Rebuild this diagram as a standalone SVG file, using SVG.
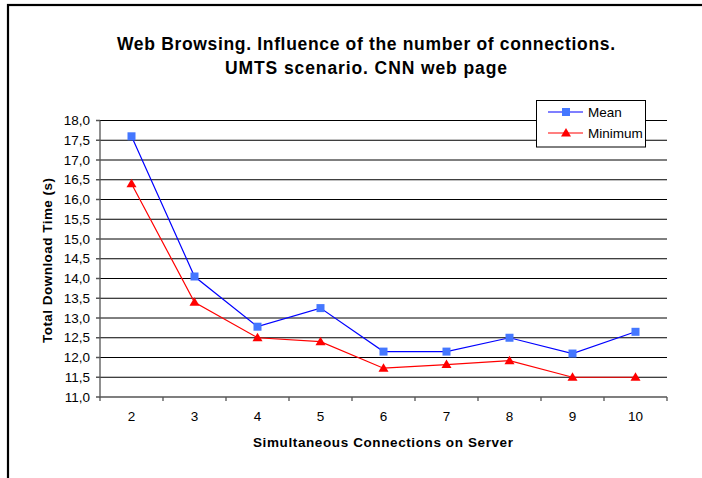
<svg xmlns="http://www.w3.org/2000/svg" xmlns:xlink="http://www.w3.org/1999/xlink" width="702" height="478" viewBox="0 0 702 478">
<style>
text{font-family:"Liberation Sans",Arial,sans-serif;fill:#000}
.title{font-size:17.5px;font-weight:bold;text-anchor:middle}
.axt{font-size:13.5px;font-weight:bold;text-anchor:middle}
.tick{font-size:13.5px}
.yl{text-anchor:end}
.xl{text-anchor:middle}
.grid{stroke:#000;stroke-width:1;fill:none}
.axis{stroke:#555;stroke-width:1.3;fill:none}
.mean{stroke:#0000ff;stroke-width:1.2;fill:none}
.minl{stroke:#ff0000;stroke-width:1.2;fill:none}
.leg{font-size:13.5px}
</style>
<defs>
<rect id="sq" x="-4" y="-4" width="8" height="8" fill="#4477ff"/>
<path id="tri" d="M0,-5 L5,3.5 L-5,3.5 Z" fill="#ff0000"/>
</defs>
<rect x="0" y="0" width="702" height="478" fill="#fff"/>
<rect x="8" y="5" width="760" height="520" fill="none" stroke="#000" stroke-width="2.2"/>
<g id="title">
<text class="title" x="366" y="50" textLength="498" lengthAdjust="spacing">Web Browsing. Influence of the number of connections.</text>
<text class="title" x="366" y="74" textLength="282" lengthAdjust="spacing">UMTS scenario. CNN web page</text>
</g>
<g id="grid">
<path class="grid" d="M100,120.5H667M100,140.25H667M100,160H667M100,179.75H667M100,199.5H667M100,219.25H667M100,239H667M100,258.75H667M100,278.5H667M100,298.25H667M100,318H667M100,337.75H667M100,357.5H667M100,377.25H667"/>
</g>
<g id="axes">
<path class="axis" d="M100,120.5V397H667"/>
<path class="axis" d="M96,120.5H100M96,140.25H100M96,160H100M96,179.75H100M96,199.5H100M96,219.25H100M96,239H100M96,258.75H100M96,278.5H100M96,298.25H100M96,318H100M96,337.75H100M96,357.5H100M96,377.25H100M96,397H100"/>
<path class="axis" d="M100,397V401M163,397V401M226,397V401M289,397V401M352,397V401M415,397V401M478,397V401M541,397V401M604,397V401M667,397V401"/>
</g>
<g id="ylabels" class="tick">
<text class="tick yl" x="90" y="125">18,0</text>
<text class="tick yl" x="90" y="144.75">17,5</text>
<text class="tick yl" x="90" y="164.5">17,0</text>
<text class="tick yl" x="90" y="184.25">16,5</text>
<text class="tick yl" x="90" y="204">16,0</text>
<text class="tick yl" x="90" y="223.75">15,5</text>
<text class="tick yl" x="90" y="243.5">15,0</text>
<text class="tick yl" x="90" y="263.25">14,5</text>
<text class="tick yl" x="90" y="283">14,0</text>
<text class="tick yl" x="90" y="302.75">13,5</text>
<text class="tick yl" x="90" y="322.5">13,0</text>
<text class="tick yl" x="90" y="342.25">12,5</text>
<text class="tick yl" x="90" y="362">12,0</text>
<text class="tick yl" x="90" y="381.75">11,5</text>
<text class="tick yl" x="90" y="401.5">11,0</text>
</g>
<g id="xlabels">
<text class="tick xl" x="131.5" y="421">2</text>
<text class="tick xl" x="194.5" y="421">3</text>
<text class="tick xl" x="257.5" y="421">4</text>
<text class="tick xl" x="320.5" y="421">5</text>
<text class="tick xl" x="383.5" y="421">6</text>
<text class="tick xl" x="446.5" y="421">7</text>
<text class="tick xl" x="509.5" y="421">8</text>
<text class="tick xl" x="572.5" y="421">9</text>
<text class="tick xl" x="635.5" y="421">10</text>
</g>
<g id="axis-titles">
<text class="axt" x="383" y="447" textLength="260" lengthAdjust="spacing">Simultaneous Connections on Server</text>
<text class="axt" transform="translate(52,260.5) rotate(-90)" x="0" y="0" textLength="165" lengthAdjust="spacing">Total Download Time (s)</text>
</g>
<g id="connectors">
<polyline class="mean" points="131.5,136.3 194.5,276.5 257.5,326.7 320.5,308.1 383.5,351.6 446.5,351.6 509.5,337.75 572.5,353.55 635.5,331.8"/>
<polyline class="minl" points="131.5,183.7 194.5,302.2 257.5,337.75 320.5,341.7 383.5,368.2 446.5,364.6 509.5,360.7 572.5,377.25 635.5,377.25"/>
</g>
<g id="mean-markers">
<use xlink:href="#sq" x="131.5" y="136.3"/>
<use xlink:href="#sq" x="194.5" y="276.5"/>
<use xlink:href="#sq" x="257.5" y="326.7"/>
<use xlink:href="#sq" x="320.5" y="308.1"/>
<use xlink:href="#sq" x="383.5" y="351.6"/>
<use xlink:href="#sq" x="446.5" y="351.6"/>
<use xlink:href="#sq" x="509.5" y="337.75"/>
<use xlink:href="#sq" x="572.5" y="353.55"/>
<use xlink:href="#sq" x="635.5" y="331.8"/>
</g>
<g id="min-markers">
<use xlink:href="#tri" x="131.5" y="183.7"/>
<use xlink:href="#tri" x="194.5" y="302.2"/>
<use xlink:href="#tri" x="257.5" y="337.75"/>
<use xlink:href="#tri" x="320.5" y="341.7"/>
<use xlink:href="#tri" x="383.5" y="368.2"/>
<use xlink:href="#tri" x="446.5" y="364.6"/>
<use xlink:href="#tri" x="509.5" y="360.7"/>
<use xlink:href="#tri" x="572.5" y="377.25"/>
<use xlink:href="#tri" x="635.5" y="377.25"/>
</g>
<g id="legend">
<rect x="536.5" y="100.5" width="109" height="46.5" fill="#fff" stroke="#000" stroke-width="1"/>
<path class="mean" d="M548,112H583"/>
<use xlink:href="#sq" x="566" y="112"/>
<text class="leg" x="588" y="117">Mean</text>
<path class="minl" d="M548,133H583"/>
<use xlink:href="#tri" x="566" y="133"/>
<text class="leg" x="588" y="138">Minimum</text>
</g>
</svg>
